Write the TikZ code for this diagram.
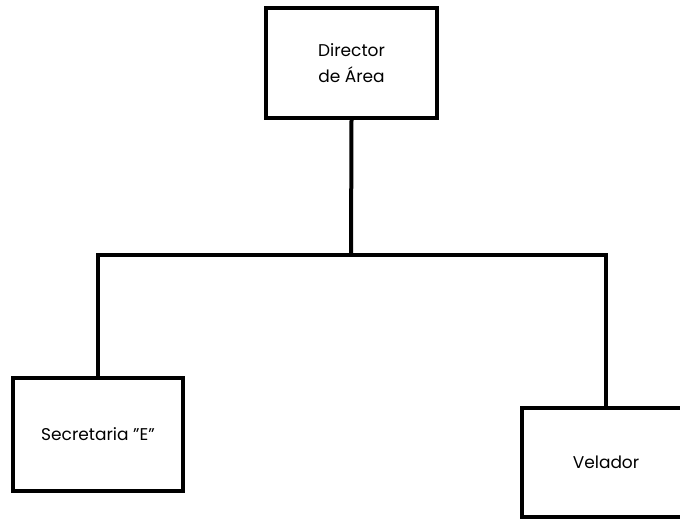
\documentclass[tikz,border=0pt]{standalone}
\usepackage{fontspec}
\setmainfont{Poppins}
\usetikzlibrary{positioning}

\tikzset{
  orgbox/.style={draw, line width=4pt, line join=miter, align=center, inner sep=0pt,
    font=\fontsize{17}{26}\selectfont},
  orgline/.style={line width=4pt, line join=miter}
}

\begin{document}
\begin{tikzpicture}[x=1pt, y=-1pt]
\useasboundingbox (0,0) rectangle (680,520);

\node[orgbox, minimum width=171pt, minimum height=110pt] (director) at (351.5,63) {Director\\de Área};
\node[orgbox, minimum width=170pt, minimum height=113pt] (secretaria) at (98,434.5) {Secretaria "E"};
\node[orgbox, minimum width=168pt, minimum height=109pt] (velador) at (606,462.5) {Velador};

\coordinate (junction) at (351,255);
\draw[orgline] (director.south) -- (junction);
\draw[orgline] (secretaria.north) |- (junction) -| (velador.north);
\end{tikzpicture}
\end{document}
